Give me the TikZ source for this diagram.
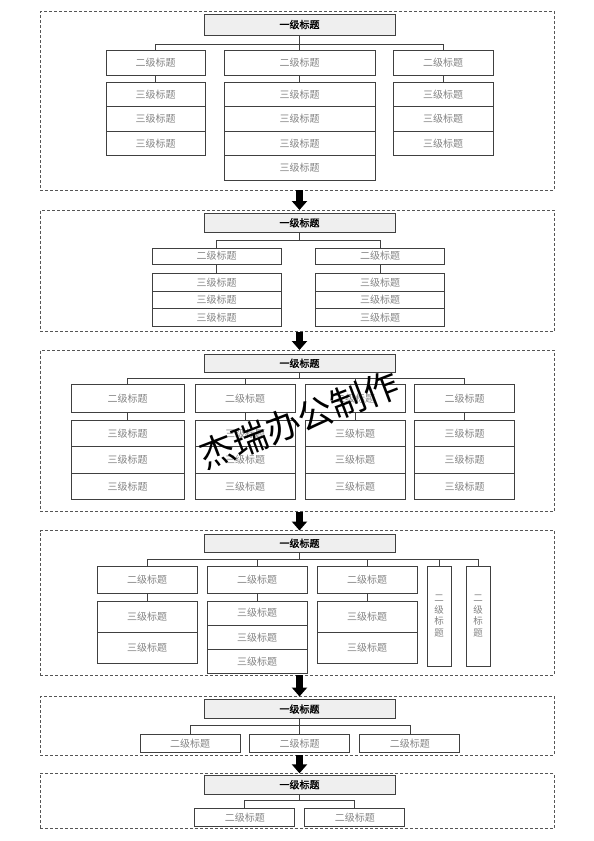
\documentclass[tikz,border=0pt]{standalone}
\usepackage{fontspec}
\setmainfont{Noto Sans CJK SC}
\newfontfamily\cjkbold[FakeBold=1]{Noto Sans CJK SC}
\usetikzlibrary{arrows.meta}
\definecolor{boxline}{HTML}{404040}
\definecolor{titlefill}{HTML}{EFEFEF}
\definecolor{subtext}{HTML}{858585}
\definecolor{panelline}{HTML}{555555}
\newcommand\bx[6]{\node[#1, minimum width=#4pt, minimum height=#5pt] (#2) at (#3) {#6};}
\tikzset{
 panel/.style={draw=panelline, dash pattern=on 3pt off 2pt, line width=0.8pt, inner sep=0pt, outer sep=0pt},
 lvone/.style={draw=boxline, fill=titlefill, line width=0.9pt, inner sep=0pt, outer sep=0pt, font=\cjkbold\fontsize{10}{12}\selectfont, text=black},
 lvtwo/.style={draw=boxline, fill=white, line width=0.9pt, inner sep=0pt, outer sep=0pt, font=\fontsize{10}{12}\selectfont, text=subtext},
 lvvert/.style={lvtwo, align=center, font=\fontsize{9.5}{11.5}\selectfont},
 conn/.style={draw=boxline, line width=0.7pt},
 bigarrow/.style={line width=7.5pt, -{Triangle[width=15pt,length=9pt]}, black},
}
\begin{document}
\begin{tikzpicture}[x=1pt,y=-1pt]
\useasboundingbox (0,0) rectangle (594,841);
% panels
\node[panel, minimum width=514pt, minimum height=178.5pt] (p1) at (297,100.75) {};
\node[panel, minimum width=514pt, minimum height=121.5pt] (p2) at (297,270.75) {};
\node[panel, minimum width=514pt, minimum height=161.5pt] (p3) at (297,430.75) {};
\node[panel, minimum width=514pt, minimum height=144.5pt] (p4) at (297,602.75) {};
\node[panel, minimum width=514pt, minimum height=58.5pt] (p5) at (297,725.75) {};
\node[panel, minimum width=514pt, minimum height=55.2pt] (p6) at (297,800.9) {};

% ---------------- panel 1
\bx{lvone}{t1}{299.5,24.5}{191}{21}{一级标题}
\coordinate (b1) at (299.5,44);
\bx{lvtwo}{p1a}{155.5,62.5}{99}{25}{二级标题}
\bx{lvtwo}{p1b}{299.5,62.5}{151}{25}{二级标题}
\bx{lvtwo}{p1c}{443,62.5}{100}{25}{二级标题}
\foreach \i/\y in {1/94.7,2/119.1,3/143.5}{
  \node[lvtwo, minimum width=99pt, minimum height=24.4pt] (p1a\i) at (155.5,\y) {三级标题};
  \node[lvtwo, minimum width=100pt, minimum height=24.4pt] (p1c\i) at (443,\y) {三级标题};
}
\foreach \i/\y in {1/94.7,2/119.1,3/143.5,4/167.9}{
  \node[lvtwo, minimum width=151pt, minimum height=24.4pt] (p1b\i) at (299.5,\y) {三级标题};
}
\draw[conn] (t1.south) -- (b1) -| (p1a.north);
\draw[conn] (b1) -| (p1c.north);
\draw[conn] (b1) -- (p1b.north);
\draw[conn] (p1a.south) -- (p1a1.north);
\draw[conn] (p1b.south) -- (p1b1.north);
\draw[conn] (p1c.south) -- (p1c1.north);

% ---------------- panel 2
\bx{lvone}{t2}{299.5,222.75}{191}{19.5}{一级标题}
\coordinate (b2) at (299.5,240.5);
\bx{lvtwo}{p2a}{216.5,256}{129}{16}{二级标题}
\bx{lvtwo}{p2b}{380,256}{129}{16}{二级标题}
\foreach \i/\y in {1/282.25,2/299.75,3/317.25}{
  \node[lvtwo, minimum width=129pt, minimum height=17.5pt] (p2a\i) at (216.5,\y) {三级标题};
  \node[lvtwo, minimum width=129pt, minimum height=17.5pt] (p2b\i) at (380,\y) {三级标题};
}
\draw[conn] (t2.south) -- (b2) -| (p2a.north);
\draw[conn] (b2) -| (p2b.north);
\draw[conn] (p2a.south) -- (p2a1.north);
\draw[conn] (p2b.south) -- (p2b1.north);

% ---------------- panel 3
\bx{lvone}{t3}{299.5,363.25}{191}{18.5}{一级标题}
\coordinate (b3) at (299.5,378);
\bx{lvtwo}{p3a}{127.5,398.25}{113}{27.5}{二级标题}
\bx{lvtwo}{p3b}{245,398.25}{100}{27.5}{二级标题}
\bx{lvtwo}{p3c}{355,398.25}{100}{27.5}{二级标题}
\bx{lvtwo}{p3d}{464.5,398.25}{100}{27.5}{二级标题}
\foreach \i/\y in {1/433.67,2/460,3/486.33}{
  \node[lvtwo, minimum width=113pt, minimum height=26.33pt] (p3a\i) at (127.5,\y) {三级标题};
  \node[lvtwo, minimum width=100pt, minimum height=26.33pt] (p3b\i) at (245,\y) {三级标题};
  \node[lvtwo, minimum width=100pt, minimum height=26.33pt] (p3c\i) at (355,\y) {三级标题};
  \node[lvtwo, minimum width=100pt, minimum height=26.33pt] (p3d\i) at (464.5,\y) {三级标题};
}
\draw[conn] (t3.south) -- (b3) -| (p3a.north);
\draw[conn] (b3) -| (p3b.north);
\draw[conn] (b3) -| (p3c.north);
\draw[conn] (b3) -| (p3d.north);
\foreach \c in {a,b,c,d}{\draw[conn] (p3\c.south) -- (p3\c1.north);}

% ---------------- panel 4
\bx{lvone}{t4}{299.5,543.25}{191}{18.5}{一级标题}
\coordinate (b4) at (299.5,559.5);
\bx{lvtwo}{p4a}{147,579.75}{100}{27.5}{二级标题}
\bx{lvtwo}{p4b}{257,579.75}{100}{27.5}{二级标题}
\bx{lvtwo}{p4c}{367,579.75}{100}{27.5}{二级标题}
\bx{lvvert}{p4d}{439,616}{24}{100}{二\\级\\标\\题}
\bx{lvvert}{p4e}{478,616}{24}{100}{二\\级\\标\\题}
\foreach \i/\y in {1/616.5,2/647.5}{
  \node[lvtwo, minimum width=100pt, minimum height=31pt] (p4a\i) at (147,\y) {三级标题};
  \node[lvtwo, minimum width=100pt, minimum height=31pt] (p4c\i) at (367,\y) {三级标题};
}
\foreach \i/\y in {1/613.1,2/637.3,3/661.5}{
  \node[lvtwo, minimum width=100pt, minimum height=24.2pt] (p4b\i) at (257,\y) {三级标题};
}
\draw[conn] (t4.south) -- (b4) -| (p4a.north);
\draw[conn] (b4) -| (p4b.north);
\draw[conn] (b4) -| (p4c.north);
\draw[conn] (b4) -| (p4d.north);
\draw[conn] (b4) -| (p4e.north);
\foreach \c in {a,b,c}{\draw[conn] (p4\c.south) -- (p4\c1.north);}

% ---------------- panel 5
\bx{lvone}{t5}{299.5,709}{191}{19}{一级标题}
\coordinate (b5) at (299.5,725.5);
\bx{lvtwo}{p5a}{190,743.35}{100}{18.7}{二级标题}
\bx{lvtwo}{p5b}{299.7,743.35}{100}{18.7}{二级标题}
\bx{lvtwo}{p5c}{409.85,743.35}{100}{18.7}{二级标题}
\draw[conn] (t5.south) -- (b5) -| (p5a.north);
\draw[conn] (b5) -| (p5b.north);
\draw[conn] (b5) -| (p5c.north);

% ---------------- panel 6
\bx{lvone}{t6}{299.5,784.65}{191}{19.3}{一级标题}
\coordinate (b6) at (299.5,800.7);
\bx{lvtwo}{p6a}{244.8,817.5}{100}{18.4}{二级标题}
\bx{lvtwo}{p6b}{354.8,817.5}{100}{18.4}{二级标题}
\draw[conn] (t6.south) -- (b6) -| (p6a.north);
\draw[conn] (b6) -| (p6b.north);

% ---------------- arrows between panels
\draw[bigarrow] (p1.south -| t1.south) -- (p2.north -| t1.south);
\draw[bigarrow] (p2.south -| t1.south) -- (p3.north -| t1.south);
\draw[bigarrow] (p3.south -| t1.south) -- (p4.north -| t1.south);
\draw[bigarrow] (p4.south -| t1.south) -- (p5.north -| t1.south);
\draw[bigarrow] (p5.south -| t1.south) -- (p6.north -| t1.south);

% watermark
\node[rotate=21, font=\fontsize{35}{35}\selectfont, text=black, inner sep=0pt] (wm) at (299,420) {杰瑞办公制作};
\end{tikzpicture}
\end{document}
